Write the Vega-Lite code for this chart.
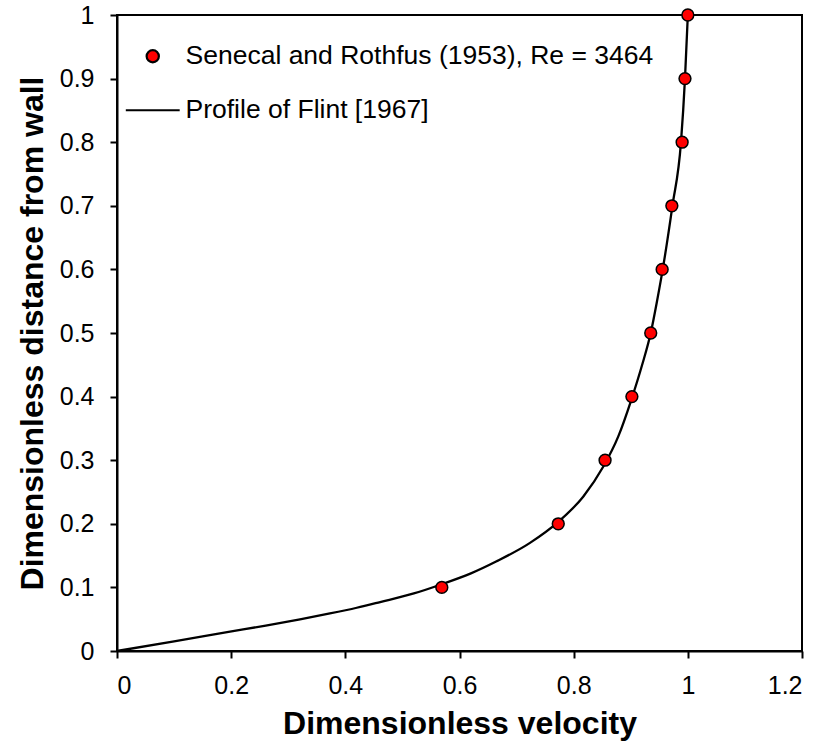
{
  "$schema": "https://vega.github.io/schema/vega-lite/v6.json",
  "width": 685,
  "height": 636,
  "autosize": {"type": "none"},
  "padding": {"left": 117, "top": 15, "right": 33, "bottom": 93},
  "background": "white",
  "config": {
    "view": {"stroke": "black", "strokeWidth": 2},
    "font": "Liberation Sans",
    "legend": {"symbolStrokeWidth": 2.2},
    "axis": {
      "grid": false,
      "domainColor": "black",
      "domainWidth": 2,
      "tickColor": "black",
      "tickWidth": 2,
      "tickSize": 7,
      "labelColor": "black",
      "labelFont": "Liberation Sans",
      "labelFontSize": 25,
      "titleColor": "black",
      "titleFont": "Liberation Sans",
      "titleFontWeight": "bold",
      "titleFontSize": 32
    }
  },
  "datasets": {
    "points": [
      {"u": 0.569, "y": 0.1},
      {"u": 0.773, "y": 0.2},
      {"u": 0.855, "y": 0.3},
      {"u": 0.902, "y": 0.4},
      {"u": 0.935, "y": 0.5},
      {"u": 0.955, "y": 0.6},
      {"u": 0.972, "y": 0.7},
      {"u": 0.990, "y": 0.8},
      {"u": 0.995, "y": 0.9},
      {"u": 1.0, "y": 1.0}
    ],
    "curve": [
      {"u": 0.0, "y": 0.0},
      {"u": 0.1, "y": 0.0152},
      {"u": 0.198, "y": 0.0304},
      {"u": 0.2606, "y": 0.040},
      {"u": 0.3206, "y": 0.0498},
      {"u": 0.373, "y": 0.059},
      {"u": 0.42, "y": 0.068},
      {"u": 0.461, "y": 0.077},
      {"u": 0.52, "y": 0.0905},
      {"u": 0.569, "y": 0.105},
      {"u": 0.62, "y": 0.122},
      {"u": 0.665, "y": 0.141},
      {"u": 0.7235, "y": 0.170},
      {"u": 0.773, "y": 0.203},
      {"u": 0.817, "y": 0.243},
      {"u": 0.852, "y": 0.290},
      {"u": 0.878, "y": 0.337},
      {"u": 0.901, "y": 0.395},
      {"u": 0.92, "y": 0.45},
      {"u": 0.935, "y": 0.5},
      {"u": 0.946, "y": 0.55},
      {"u": 0.956, "y": 0.6},
      {"u": 0.973, "y": 0.7},
      {"u": 0.988, "y": 0.8},
      {"u": 0.995, "y": 0.9},
      {"u": 1.0, "y": 1.0}
    ]
  },
  "encoding": {
    "x": {
      "field": "u",
      "type": "quantitative",
      "scale": {"domain": [0, 1.2], "nice": false, "zero": false},
      "axis": {
        "title": "Dimensionless velocity",
        "values": [0, 0.2, 0.4, 0.6, 0.8, 1, 1.2],
        "format": ".1~f",
        "labelPadding": 15,
        "titlePadding": 10
      }
    },
    "y": {
      "field": "y",
      "type": "quantitative",
      "scale": {"domain": [0, 1], "nice": false, "zero": false},
      "axis": {
        "title": "Dimensionless distance from wall",
        "values": [0, 0.1, 0.2, 0.3, 0.4, 0.5, 0.6, 0.7, 0.8, 0.9, 1],
        "format": ".1~f",
        "labelPadding": 16,
        "titlePadding": 10
      }
    }
  },
  "layer": [
    {
      "data": {"name": "curve"},
      "mark": {"type": "line", "color": "black", "strokeWidth": 2.3, "interpolate": "monotone"}
    },
    {
      "data": {"name": "points"},
      "mark": {"type": "point", "filled": true, "fill": "red", "stroke": "black", "strokeWidth": 1.5, "size": 140, "opacity": 1},
      "encoding": {
        "shape": {
          "datum": "Senecal and Rothfus (1953), Re = 3464",
          "scale": {
            "domain": ["Senecal and Rothfus (1953), Re = 3464", "Profile of Flint [1967]"],
            "range": ["circle", "M-4.4,0L4.4,0"]
          },
          "legend": {
            "title": null,
            "orient": "none",
            "legendX": 22.5,
            "legendY": 28,
            "padding": 0,
            "symbolSize": 150,
            "symbolStrokeWidth": 2.2,
            "labelFont": "Liberation Sans",
            "labelFontSize": 26.5,
            "labelColor": "black",
            "labelLimit": 700,
            "labelOffset": 19.5,
            "rowPadding": 27,
            "encode": {
              "symbols": {
                "update": {
                  "fill": {"value": "red"},
                  "stroke": {"value": "black"},
                  "strokeWidth": {"value": 2.2},
                  "opacity": {"value": 1}
                }
              }
            }
          }
        }
      }
    }
  ]
}
